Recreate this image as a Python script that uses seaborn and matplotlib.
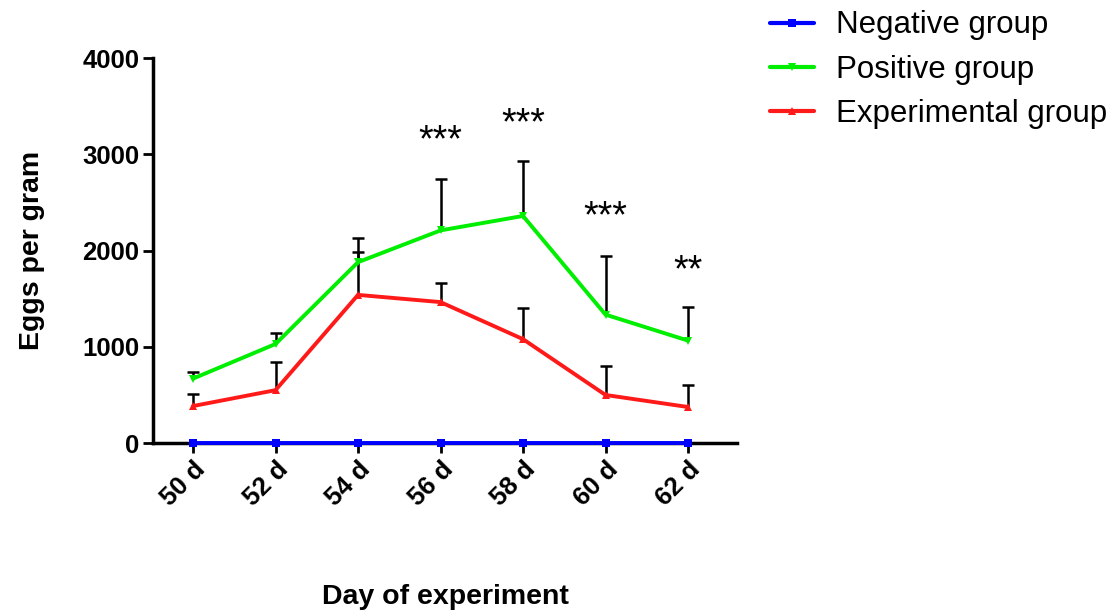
import numpy as np
import pandas as pd
import matplotlib.pyplot as plt
import seaborn as sns

days = [50, 52, 54, 56, 58, 60, 62]
day_labels = ['50 d', '52 d', '54 d', '56 d', '58 d', '60 d', '62 d']

negative = [0, 0, 0, 0, 0, 0, 0]
positive = [670, 1030, 1880, 2210, 2360, 1335, 1065]
experimental = [385, 550, 1540, 1465, 1080, 500, 375]

positive_err = [70, 110, 250, 530, 570, 610, 350]
experimental_err = [125, 290, 445, 195, 320, 300, 225]

stars = ['', '', '', '***', '***', '***', '**']
star_y = [0, 0, 0, 3140, 3310, 2350, 1780]

groups = ['Negative group', 'Positive group', 'Experimental group']
colors = ['#0000ff', '#00ee00', '#ff1a1a']

df = pd.DataFrame({
    'day': days * 3,
    'epg': negative + positive + experimental,
    'group': [groups[0]] * 7 + [groups[1]] * 7 + [groups[2]] * 7,
})

sns.set_style('ticks')
plt.rcParams['font.family'] = ['Liberation Sans', 'DejaVu Sans']
plt.rcParams.update({'text.color': 'black', 'axes.labelcolor': 'black',
                     'xtick.color': 'black', 'ytick.color': 'black',
                     'axes.edgecolor': 'black'})

fig = plt.figure(figsize=(11.09, 6.12), dpi=100)
ax = fig.add_axes([0.138, 0.276, 0.527, 0.629])

# upper-only error bars, drawn under the lines
for vals, err in [(positive, positive_err), (experimental, experimental_err)]:
    eb = ax.errorbar(days, vals, yerr=[np.zeros(7), err], fmt='none', ecolor='black',
                     elinewidth=1.8, capsize=4, capthick=1.8, zorder=2)
    eb[1][0].set_visible(False)

sns.lineplot(data=df, x='day', y='epg', hue='group', style='group',
             palette=colors, markers=['s', 'v', '^'], dashes=False,
             markersize=6, markeredgewidth=0, linewidth=2.8, ax=ax,
             clip_on=False, zorder=5)

for d, s, y in zip(days, stars, star_y):
    if s:
        ax.text(d, y, s, ha='center', va='center', fontsize=27)

ax.set_xlim(49.03, 63.2)
ax.set_ylim(0, 4000)
ax.set_yticks([0, 1000, 2000, 3000, 4000])
ax.set_xticks(days)
ax.set_xticklabels(day_labels, rotation=45, ha='right', rotation_mode='anchor')
for lab in ax.get_xticklabels() + ax.get_yticklabels():
    lab.set_fontweight('bold')
    lab.set_fontsize(18.5)
ax.tick_params(axis='both', width=2, length=7, direction='out', pad=3)
for side in ['left', 'bottom']:
    ax.spines[side].set_linewidth(2.5)
sns.despine(ax=ax)

ax.set_xlabel('Day of experiment', fontsize=20.5, fontweight='bold', labelpad=53)
ax.set_ylabel('Eggs per gram', fontsize=20.5, fontweight='bold', labelpad=27)

leg = ax.legend(loc='upper left', bbox_to_anchor=(1.045, 1.14), frameon=False,
                fontsize=22.5, handlelength=1.4, handletextpad=0.7,
                labelspacing=0.45, borderaxespad=0, borderpad=0.2)
for line in leg.get_lines():
    line.set_linewidth(3)

fig.savefig('out.png', dpi=100)
